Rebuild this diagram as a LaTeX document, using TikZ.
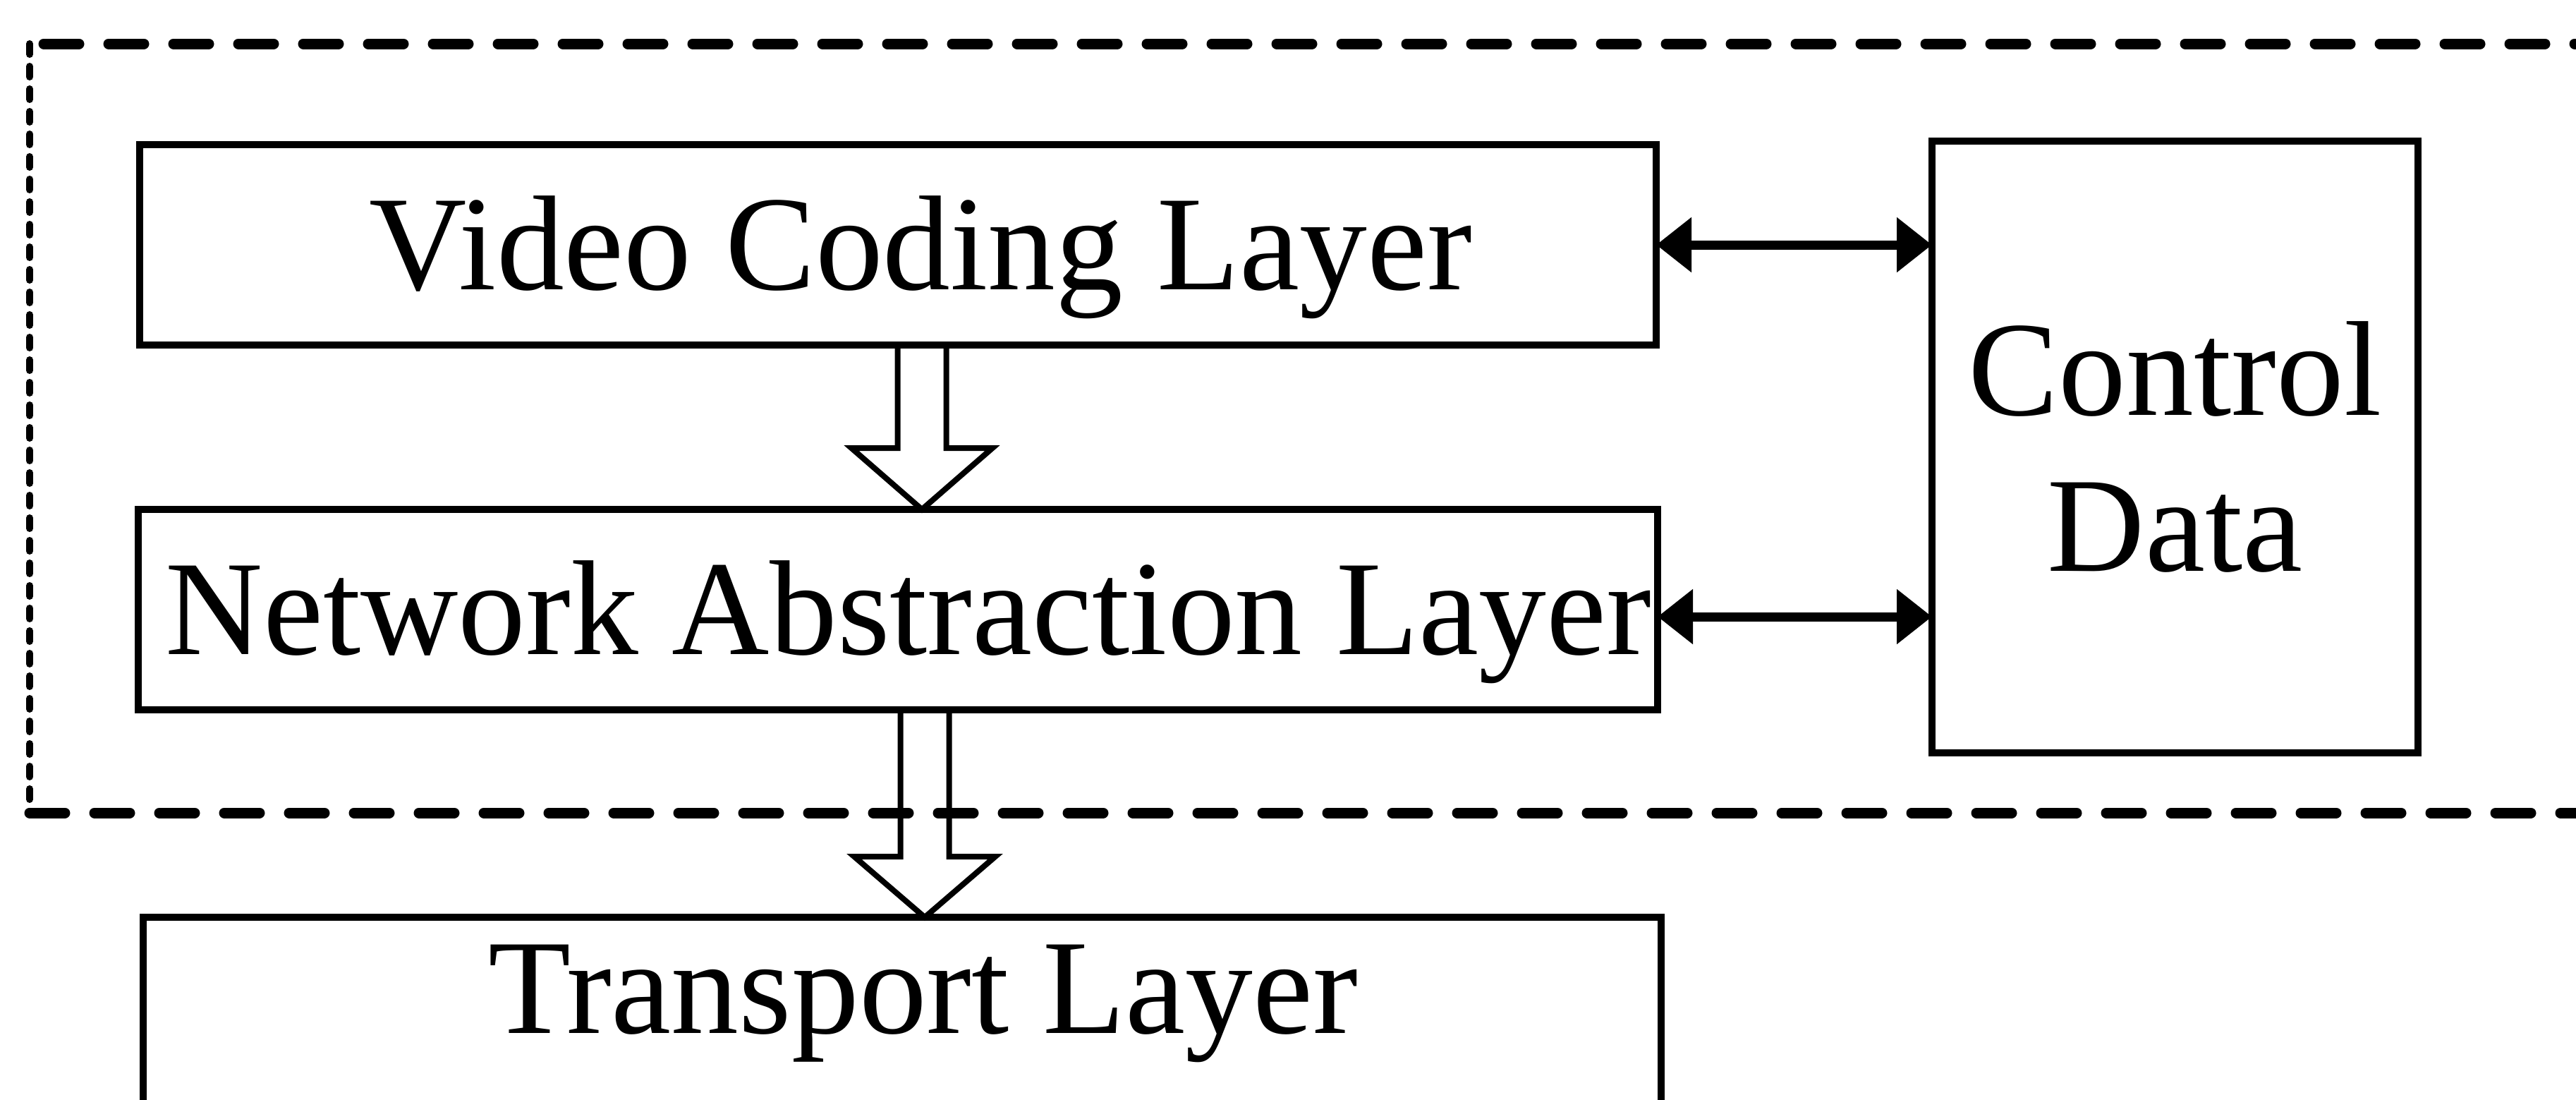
\documentclass[tikz,border=0pt]{standalone}
\usepackage{fontspec}
\setmainfont{Liberation Serif}
\usetikzlibrary{shapes,arrows.meta,positioning,calc}

\begin{document}
\begin{tikzpicture}[
    box/.style={rectangle, draw, line width=0.1cm, inner sep=0pt, outer sep=0pt,
        font=\fontsize{54.5}{63}\selectfont},
    layer/.style={box, minimum width=21.5cm, minimum height=2.84cm, text height=36pt, text depth=0pt},
    ctrlbox/.style={box, minimum width=6.89cm, minimum height=8.67cm, align=center},
    hollow/.style={line width=0.08cm, line join=miter},
    dblarrow/.style={line width=0.13cm, {Triangle[length=0.5cm,width=0.75cm]}-{Triangle[length=0.5cm,width=0.75cm]}},
    frame/.style={line width=0.15cm, line cap=round, dash pattern=on 0.5cm off 0.42cm},
    frameside/.style={line width=0.1cm, line cap=round, dash pattern=on 0.15cm off 0.17cm}
]
    % Page
    \useasboundingbox (0,0) rectangle (36.52,-15.58);
    \fill[white] (0,0) rectangle (36.52,-15.58);
    \clip (0,0) rectangle (36.52,-15.58);

    % Codec side
    \node[layer] (vcl) at (12.73,-3.47) {\hspace*{0.65cm}Video Coding Layer};
    \node[layer, below=2.33cm of vcl, minimum width=21.54cm] (nal) {\hspace*{0.3cm}Network Abstraction Layer};
    \node[ctrlbox, right=3.91cm of vcl.north east, anchor=north west, yshift=0.05cm] (ctrl) {Control\\Data};

    % Transport (cut off at the bottom)
    \node[layer, below=2.94cm of nal, xshift=0.06cm, anchor=north, minimum width=21.52cm,
        inner ysep=0.38cm, text depth=3cm] (tl) {\hspace*{0.6cm}Transport Layer};

    % Dashed frame, open on the right
    \draw[frame] (37,-0.62) -- (0.42,-0.62);
    \draw[frame] (0.42,-11.52) -- (37,-11.52);
    \draw[frameside] (0.42,-0.62) -- (0.42,-11.52);

    % Hollow arrows
    \coordinate (a1) at ($(vcl.south)+(0.34,0)$);
    \coordinate (a2) at ($(nal.south)+(0.38,0)$);
    \draw[hollow] ($(a1)+(-0.345,0)$) -- ($(a1 |- nal.north)+(-0.345,0.87)$) -- ++(-0.655,0)
        -- (a1 |- nal.north) -- ++(1,0.87) -- ++(-0.655,0) -- ($(a1)+(0.345,0)$);
    \draw[hollow] ($(a2)+(-0.345,0)$) -- ($(a2 |- tl.north)+(-0.345,0.86)$) -- ++(-0.655,0)
        -- (a2 |- tl.north) -- ++(1,0.86) -- ++(-0.655,0) -- ($(a2)+(0.345,0)$);

    % Control links
    \draw[dblarrow] (vcl.east) -- (vcl.east -| ctrl.west);
    \draw[dblarrow] ($(nal.east)+(0,-0.1)$) -- ($(nal.east -| ctrl.west)+(0,-0.1)$);
\end{tikzpicture}
\end{document}
